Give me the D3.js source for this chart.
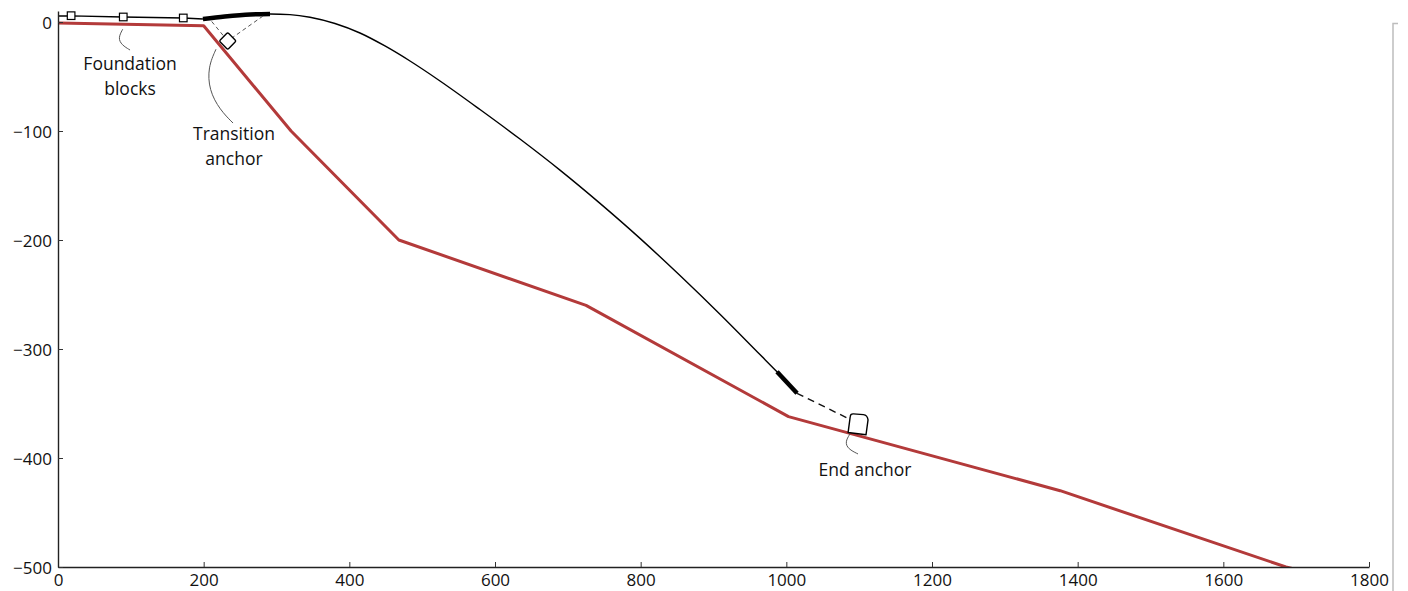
<!DOCTYPE html>
<html><head><meta charset="utf-8">
<script src="https://cdn.jsdelivr.net/npm/d3@7"></script>
<style>
html,body{margin:0;padding:0;background:#fff;}
svg{display:block;}
text{font-family:"Open Sans",sans-serif;}
</style></head>
<body>
<svg id="chart" width="1408" height="591"></svg>
<script>
// ---- data ----
const xTicks = [0, 200, 400, 600, 800, 1000, 1200, 1400, 1600, 1800];
const yTicks = [0, -100, -200, -300, -400, -500];

// seabed profile
const seabedX = [0, 200, 320, 468, 725, 1003, 1376, 1686, 1800];
const seabedY = [-1, -3.5, -100, -200, -260, -362, -430, -500, -518];

// mooring line (cable)
const cableX = [0, 18, 89, 172, 199, 229, 264, 291.1, 318.5, 346.0, 380.3, 414.6, 448.9, 483.3, 524.5, 579.4, 634.3, 689.2, 744.2, 799.1, 854.0, 908.9, 963.8, 987.2, 1014.7];
const cableY = [5.5, 5.6, 4.6, 3.7, 2.75, 5.0, 6.9, 7.34, 6.79, 4.40, -1.38, -10.1, -22.0, -35.8, -54.1, -80.3, -107.4, -135.9, -166.4, -198.5, -232.6, -268.1, -305.1, -320.9, -340.6];

// heavy chain sections [from x, to x]
const chainStart = [199, 987.2];
const chainEnd = [291.1, 1014.7];

// foundation blocks
const blockX = [18, 89.6, 172];
const blockY = [5.8, 4.6, 3.7];

// anchors
const transAnchor = [233, -17.4];
const transDashFrom = [[211, 0.5], [281.5, 5.5]];
const endAnchor = [1098, -369];
const endDashFrom = [1014.7, -340.6];

// annotation labels
const labelText = [["Foundation", "blocks"], ["Transition", "anchor"], ["End anchor"]];
const labelX = [98.9, 241.6, 1108];
const labelY = [-37.6, -101.8, -410];
const leaders = [
  [[88.8, -6.7], [82.4, -14.7], [87.5, -21.1], [98.9, -25.7]],
  [[216.9, -25], [206, -41.3], [207.3, -62.4], [222.4, -80.7], [240.3, -92.7]],
  [[1087.4, -377.9], [1080.6, -385.3], [1084.7, -391.7], [1098.4, -396.3]]
];

// ---- drawing ----
const svg = d3.select("#chart");
const x = d3.scaleLinear().domain([0, 1800]).range([58, 1369]);
const y = d3.scaleLinear().domain([-500, 10]).range([567, 11.1]);

svg.append("clipPath").attr("id", "clip")
  .append("rect").attr("x", 58).attr("y", 0).attr("width", 1311).attr("height", 567);

// right-side gray frame fragment
svg.append("path").attr("d", "M1393,591 L1393,23.5 L1398,23.5")
  .attr("fill", "none").attr("stroke", "#bdbdbd").attr("stroke-width", 1.5);

const plot = svg.append("g").attr("clip-path", "url(#clip)");

const line = d3.line().x(d => x(d[0])).y(d => y(d[1]));
const smooth = d3.line().x(d => x(d[0])).y(d => y(d[1])).curve(d3.curveMonotoneX);

// seabed
plot.append("path")
  .attr("d", line(seabedX.map((v, i) => [v, seabedY[i]])))
  .attr("fill", "none").attr("stroke", "#b33a3a").attr("stroke-width", 3)
  .attr("stroke-linejoin", "round");

const cable = cableX.map((v, i) => [v, cableY[i]]);
plot.append("path").attr("d", line(cable.filter(d => d[0] <= 199)))
  .attr("fill", "none").attr("stroke", "#000").attr("stroke-width", 1.4);
plot.append("path").attr("d", smooth(cable.filter(d => d[0] >= 199)))
  .attr("fill", "none").attr("stroke", "#000").attr("stroke-width", 1.4);

// chain sections (thick)
chainStart.forEach((s, i) => {
  const seg = cable.filter(d => d[0] >= s && d[0] <= chainEnd[i]);
  plot.append("path").attr("d", smooth(seg))
    .attr("fill", "none").attr("stroke", "#000").attr("stroke-width", 4.5)
    .attr("stroke-linecap", "butt");
});

// transition anchor dashed lines
transDashFrom.forEach(p => {
  plot.append("line")
    .attr("x1", x(p[0])).attr("y1", y(p[1]))
    .attr("x2", x(transAnchor[0])).attr("y2", y(transAnchor[1]))
    .attr("stroke", "#555").attr("stroke-width", 1).attr("stroke-dasharray", "4,3");
});
// end anchor dashed line
plot.append("line")
  .attr("x1", x(endDashFrom[0])).attr("y1", y(endDashFrom[1]))
  .attr("x2", x(endAnchor[0]) - 6).attr("y2", y(endAnchor[1]) - 4)
  .attr("stroke", "#111").attr("stroke-width", 1.4).attr("stroke-dasharray", "7,5");

// foundation blocks
plot.selectAll("rect.block").data(blockX.map((v, i) => [v, blockY[i]])).enter()
  .append("rect").attr("class", "block")
  .attr("x", d => x(d[0]) - 3.8).attr("y", d => y(d[1]) - 3.8)
  .attr("width", 7.6).attr("height", 7.6)
  .attr("fill", "#fff").attr("stroke", "#000").attr("stroke-width", 1.2);

// transition anchor (diamond)
plot.append("rect")
  .attr("x", -6).attr("y", -6).attr("width", 12).attr("height", 12).attr("rx", 1.5)
  .attr("transform", `translate(${x(transAnchor[0])},${y(transAnchor[1])}) rotate(45)`)
  .attr("fill", "#fff").attr("stroke", "#000").attr("stroke-width", 1.4);

// end anchor
plot.append("path")
  .attr("d", "M-9,9 L-8,-7 Q-8,-10 -5,-10 L5,-10 Q9,-10 10,-5 L9,10 Z")
  .attr("transform", `translate(${x(endAnchor[0])},${y(endAnchor[1])}) rotate(4)`)
  .attr("fill", "#fff").attr("stroke", "#000").attr("stroke-width", 1.4)
  .attr("stroke-linejoin", "round");

// leader curves
const leaderLine = d3.line().x(d => x(d[0])).y(d => y(d[1])).curve(d3.curveBasis);
leaders.forEach(l => {
  svg.append("path").attr("d", leaderLine(l))
    .attr("fill", "none").attr("stroke", "#555").attr("stroke-width", 1);
});

// labels
labelText.forEach((lines, i) => {
  lines.forEach((t, j) => {
    svg.append("text")
      .attr("x", x(labelX[i])).attr("y", y(labelY[i]) + j * 25)
      .attr("text-anchor", "middle").attr("dominant-baseline", "central")
      .attr("font-size", 17.5).attr("fill", "#111").text(t);
  });
});

// axes
const xAxis = d3.axisBottom(x).tickValues(xTicks).tickSizeInner(-5).tickSizeOuter(0).tickPadding(7).tickFormat(d3.format("d"));
const yAxis = d3.axisLeft(y).tickValues(yTicks).tickSizeInner(-5).tickSizeOuter(0).tickPadding(6).tickFormat(d3.format("d"));

const gx = svg.append("g").attr("transform", "translate(0,567)").call(xAxis);
const gy = svg.append("g").attr("transform", "translate(58,0)").call(yAxis);
[gx, gy].forEach(g => {
  g.select(".domain").attr("stroke", "#222").attr("stroke-width", 1.4);
  g.selectAll(".tick line").attr("stroke", "#333").attr("stroke-width", 1);
  g.selectAll(".tick text").attr("font-size", 17).attr("fill", "#111")
    .attr("font-family", "'Open Sans', sans-serif");
});
gy.selectAll(".tick text").attr("dy", "0.36em");
</script>
</body></html>
